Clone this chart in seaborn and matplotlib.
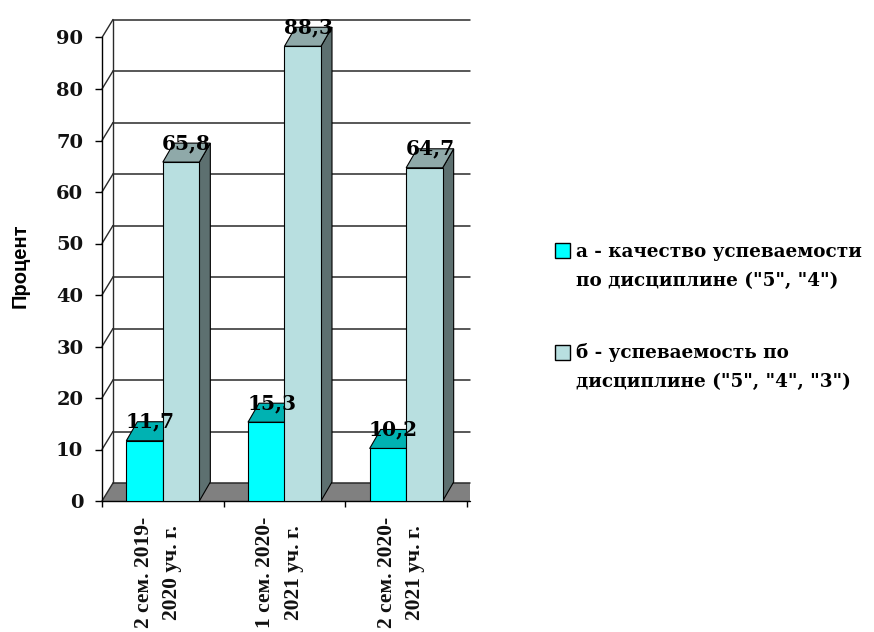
import numpy as np
import pandas as pd
import matplotlib
matplotlib.use("Agg")
import matplotlib.pyplot as plt
import seaborn as sns
from matplotlib.patches import Polygon, Rectangle

# ---------------- data ----------------
categories = ["2 сем. 2019-\n2020 уч. г.",
              "1 сем. 2020-\n2021 уч. г.",
              "2 сем. 2020-\n2021 уч. г."]
series_names = ['а - качество успеваемости\nпо дисциплине ("5", "4")',
                'б - успеваемость по\nдисциплине ("5", "4", "3")']
quality = [11.7, 15.3, 10.2]
success = [65.8, 88.3, 64.7]
y_ticks = [0, 10, 20, 30, 40, 50, 60, 70, 80, 90]
y_label = "Процент"

front_colors = ["#00FFFF", "#B8DFE0"]
top_colors = ["#00B2B2", "#8FA9A9"]
side_colors = ["#009A9A", "#5D7070"]

# ---------------- layout (pixels) ----------------
W, H = 874, 632
X_LEFT, X_RIGHT_TICK, X_CLIP = 102, 467, 470
Y_ZERO, Y_TOP = 501, 37.5
DEPTH_X, DEPTH_Y_WALL, DEPTH_Y_BAR = 11, 18, 19

sns.set_theme(style="white")
fig = plt.figure(figsize=(W / 100, H / 100), dpi=100)
ax = fig.add_axes([X_LEFT / W, (H - Y_ZERO) / H,
                   (X_RIGHT_TICK - X_LEFT) / W, (Y_ZERO - Y_TOP) / H])
ax.patch.set_visible(False)

df = pd.DataFrame({
    "cat": categories * 2,
    "series": [s for s in series_names for _ in categories],
    "value": quality + success,
})
sns.barplot(data=df, x="cat", y="value", hue="series", order=categories,
            hue_order=series_names, palette=front_colors, saturation=1,
            width=0.6, edgecolor="black", linewidth=0.8, errorbar=None,
            legend=False, ax=ax)

ax.set_xlim(-0.5, len(categories) - 0.5)
ax.set_ylim(y_ticks[0], y_ticks[-1])

# pixel -> data conversion
p0 = ax.transData.transform((0, 0))
p1 = ax.transData.transform((1, 1))
px_x = p1[0] - p0[0]
px_y = p1[1] - p0[1]
ddx = DEPTH_X / px_x
ddy_w = DEPTH_Y_WALL / px_y
ddy_b = DEPTH_Y_BAR / px_y
x_lo = -0.5
x_hi = len(categories) - 0.5 + (X_CLIP - X_RIGHT_TICK) / px_x

grid_col = "#2a2a2a"
# floor
floor = Polygon([(x_lo, 0), (x_hi, 0), (x_hi, ddy_w), (x_lo + ddx, ddy_w)],
                closed=True, facecolor="#808080", edgecolor="none",
                zorder=0.6, clip_on=False)
ax.add_patch(floor)
ax.plot([x_lo, x_hi], [0, 0], color="black", lw=1.0, zorder=0.7, clip_on=False)
# back wall grid + left wall diagonals
for v in y_ticks:
    ax.plot([x_lo + ddx, x_hi], [v + ddy_w, v + ddy_w], color=grid_col,
            lw=1.1, zorder=0.8, clip_on=False)
    ax.plot([x_lo, x_lo + ddx], [v, v + ddy_w], color=grid_col,
            lw=1.0, zorder=0.8, clip_on=False)
ax.plot([x_lo + ddx, x_lo + ddx], [ddy_w, y_ticks[-1] + ddy_w],
        color=grid_col, lw=1.0, zorder=0.8, clip_on=False)

# 3D faces for bars
values_by_series = [quality, success]
for i, cont in enumerate(ax.containers):
    for j, rect in enumerate(cont.patches):
        x0 = rect.get_x()
        w = rect.get_width()
        h = rect.get_height()
        rect.set_zorder(3 + 2 * i)
        top = Polygon([(x0, h), (x0 + ddx, h + ddy_b), (x0 + w + ddx, h + ddy_b),
                       (x0 + w, h)], closed=True, facecolor=top_colors[i],
                      edgecolor="black", lw=0.8, zorder=2.5 + 2 * i, clip_on=False)
        side = Polygon([(x0 + w, 0), (x0 + w, h), (x0 + w + ddx, h + ddy_b),
                        (x0 + w + ddx, ddy_b)], closed=True,
                       facecolor=side_colors[i], edgecolor="black", lw=0.8,
                       zorder=2.5 + 2 * i, clip_on=False)
        ax.add_patch(side)
        ax.add_patch(top)
        txt = f"{values_by_series[i][j]:.1f}".replace(".", ",")
        ax.text(x0 + w / 2 + ddx / 2, h + ddy_b, txt, ha="center", va="center",
                fontsize=14.5, fontfamily="DejaVu Serif", fontweight="bold",
                color="black", zorder=20, clip_on=False)

# ---------------- axes styling ----------------
for s in ["top", "right", "bottom"]:
    ax.spines[s].set_visible(False)
ax.spines["left"].set_bounds(y_ticks[0], y_ticks[-1])
ax.spines["left"].set_color("black")
ax.spines["left"].set_linewidth(1.0)
ax.spines["left"].set_zorder(1)

ax.set_yticks(y_ticks, labels=[str(v) for v in y_ticks], fontsize=14,
              fontfamily="DejaVu Serif", fontweight="bold", color="#111111")
ax.tick_params(axis="y", which="major", direction="out", length=5, width=1.0,
               color="black", pad=8.5, left=True)

cat_pos = np.arange(len(categories))
ax.set_xticks(np.arange(len(categories) + 1) - 0.5, labels=[""] * (len(categories) + 1))
label_shift = 5 / px_x
ax.set_xticks(cat_pos - label_shift, minor=True)
ax.set_xticklabels(categories, minor=True, rotation=90, ha="center", va="top",
                   fontsize=15.5, fontfamily="Liberation Serif", fontweight="bold",
                   color="#111111", linespacing=1.55, multialignment="center")
ax.tick_params(axis="x", which="major", direction="out", length=4.5, width=1.0,
               color="black", bottom=True)
ax.tick_params(axis="x", which="minor", length=0, pad=11.5, bottom=True)
ax.set_xlabel("")

ax.set_ylabel(y_label, fontsize=14.5, fontfamily="Liberation Sans",
              fontweight="bold", va="center", color="black")
ax.yaxis.set_label_coords((20 - X_LEFT) / (X_RIGHT_TICK - X_LEFT),
                          (Y_ZERO - 266) / (Y_ZERO - Y_TOP))

# ---------------- legend ----------------
leg_square_y = [243, 345]
leg_text_top = [243, 343]
for i, name in enumerate(series_names):
    fig.patches.append(Rectangle((555 / W, 1 - (leg_square_y[i] + 15) / H),
                                 15 / W, 15 / H, transform=fig.transFigure,
                                 facecolor=front_colors[i], edgecolor="black",
                                 lw=1.0))
    fig.text(576 / W, 1 - leg_text_top[i] / H, name, ha="left", va="top",
             fontsize=13.2, fontfamily="DejaVu Serif", fontweight="bold",
             color="black", linespacing=1.75)

fig.savefig("out.png", dpi=100)
